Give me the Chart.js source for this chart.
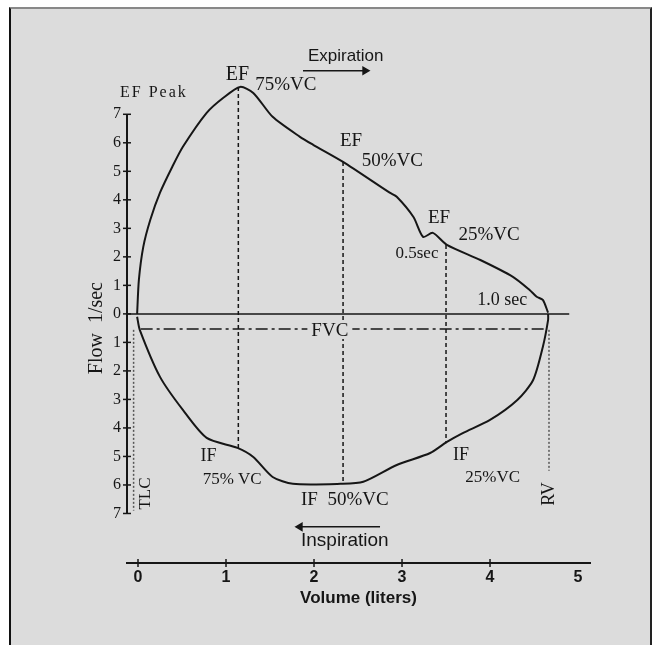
<!DOCTYPE html>
<html>
<head>
<meta charset="utf-8">
<script src="https://cdn.jsdelivr.net/npm/chart.js@4.4.1/dist/chart.umd.min.js"></script>
<style>
  html, body { margin: 0; padding: 0; background: #fff; }
  #frame { position: absolute; left: 9px; top: 7px; width: 643px; height: 638px; background: #dcdcdc;
           border-top: 2px solid #888; border-left: 2px solid #111; border-right: 2px solid #222; box-sizing: border-box; }
  #chart { position: absolute; left: 0; top: 0; }
</style>
</head>
<body>
<div id="frame"></div>
<canvas id="chart" width="658" height="645"></canvas>
<script>
// expiratory limb, TLC -> RV (litres, l/sec)
const expVolume = [-0.01, 0.01, 0.06, 0.14, 0.25, 0.39, 0.51, 0.78, 0.97, 1.16, 1.31, 1.53, 1.84, 1.99, 2.33, 2.86, 2.94, 3.13, 3.24, 3.35, 3.51, 3.89, 4.26, 4.45, 4.53, 4.60, 4.66];
const expFlow   = [0, 1.19, 2.35, 3.30, 4.25, 5.16, 5.86, 7.05, 7.58, 7.96, 7.75, 6.91, 6.21, 5.93, 5.33, 4.25, 4.11, 3.40, 2.70, 2.84, 2.42, 1.89, 1.30, 0.84, 0.60, 0.49, 0.04];
// inspiratory limb, TLC -> RV (flow drawn downward)
const inspVolume = [-0.01, 0.02, 0.25, 0.51, 0.78, 1.13, 1.31, 1.53, 1.76, 2.30, 2.56, 2.94, 3.32, 3.51, 3.69, 4.00, 4.31, 4.49, 4.60, 4.66, 4.66];
const inspFlow   = [-0.1, -0.56, -2.21, -3.37, -4.35, -4.70, -5.02, -5.72, -5.96, -5.96, -5.89, -5.30, -4.88, -4.49, -4.18, -3.72, -3.02, -2.32, -1.16, -0.21, 0];

// 75%, 50%, 25% VC markers
const markVolume = [1.14, 2.33, 3.50];
const markTop    = [7.96, 5.33, 2.42];
const markBottom = [-4.70, -5.96, -4.49];

const tlcVolume = -0.05, rvVolume = 4.67;
const fvcFlow = -0.53;

const xTicks = [0, 1, 2, 3, 4, 5];
const yTicks = [-7, -6, -5, -4, -3, -2, -1, 0, 1, 2, 3, 4, 5, 6, 7];

const X_MIN = -0.125, X_MAX = 5.136, Y_MIN = -8.737, Y_MAX = 9.5;
const INK = '#161616', BG = '#dcdcdc';
const SERIF = '"Liberation Serif", "DejaVu Serif", serif';
const SANS = '"Liberation Sans", "DejaVu Sans", sans-serif';

const pts = (xs, ys) => xs.map((x, i) => ({ x, y: ys[i] }));

const notes = [
  { text: 'EF Peak', v: 0.18, f: 7.77, font: '16px ' + SERIF, spacing: '2px' },
  { text: 'EF', v: 1.13, f: 8.40, font: '20px ' + SERIF },
  { text: '75%VC', v: 1.68, f: 8.03, font: '19px ' + SERIF },
  { text: 'Expiration', v: 2.36, f: 9.02, font: '17px ' + SANS },
  { text: 'EF', v: 2.42, f: 6.05, font: '19px ' + SERIF },
  { text: '50%VC', v: 2.89, f: 5.37, font: '19px ' + SERIF },
  { text: 'EF', v: 3.42, f: 3.35, font: '19px ' + SERIF },
  { text: '25%VC', v: 3.99, f: 2.77, font: '19px ' + SERIF },
  { text: '0.5sec', v: 3.17, f: 2.10, font: '17px ' + SERIF },
  { text: '1.0 sec', v: 4.14, f: 0.49, font: '18px ' + SERIF },
  { text: 'FVC', v: 2.18, f: -0.6, font: '19px ' + SERIF, bg: true },
  { text: 'IF', v: 0.80, f: -5.0, font: '18px ' + SERIF },
  { text: '75% VC', v: 1.07, f: -5.82, font: '17px ' + SERIF },
  { text: 'IF  50%VC', v: 2.35, f: -6.53, font: '19px ' + SERIF },
  { text: 'Inspiration', v: 2.35, f: -7.95, font: '19px ' + SANS },
  { text: 'IF', v: 3.67, f: -4.95, font: '18px ' + SERIF },
  { text: '25%VC', v: 4.03, f: -5.75, font: '17px ' + SERIF },
  { text: 'TLC', v: 0.085, f: -6.30, font: '17px ' + SERIF, rot: -90 },
  { text: 'RV', v: 4.67, f: -6.32, font: '18px ' + SERIF, rot: -90 },
  { text: 'Flow  1/sec', v: -0.466, f: -0.5, font: '20px ' + SERIF, rot: -90 }
];

const notePlugin = {
  id: 'notes',
  afterDatasetsDraw(chart) {
    const { ctx, scales: { x, y } } = chart;
    notes.forEach(n => {
      ctx.save();
      ctx.translate(x.getPixelForValue(n.v), y.getPixelForValue(n.f));
      if (n.rot) ctx.rotate(n.rot * Math.PI / 180);
      ctx.font = n.font;
      ctx.letterSpacing = n.spacing || '0px';
      ctx.textAlign = 'center';
      ctx.textBaseline = 'middle';
      if (n.bg) {
        const w = ctx.measureText(n.text).width;
        ctx.fillStyle = BG;
        ctx.fillRect(-w / 2 - 4, -8, w + 8, 16);
      }
      ctx.fillStyle = INK;
      ctx.fillText(n.text, 0, 0);
      ctx.restore();
    });
  }
};

const line = (data, extra) => Object.assign({
  data, showLine: true, borderColor: INK, backgroundColor: INK,
  borderWidth: 1.5, pointRadius: 0, clip: false
}, extra);

const datasets = [
  line(pts(expVolume, expFlow), { borderWidth: 2, tension: 0.25 }),
  line(pts(inspVolume, inspFlow), { borderWidth: 2, tension: 0.25 }),
  line([{ x: X_MIN, y: 0 }, { x: 4.9, y: 0 }]),
  line([{ x: 0.03, y: fvcFlow }, { x: 4.61, y: fvcFlow }], { borderDash: [12, 4, 3, 4] }),
  ...markVolume.map((v, i) => line([{ x: v, y: markTop[i] }, { x: v, y: markBottom[i] }], { borderDash: [4, 3] })),
  line([{ x: tlcVolume, y: -0.56 }, { x: tlcVolume, y: -6.9 }], { borderDash: [2, 2], borderColor: '#555' }),
  line([{ x: rvVolume, y: -0.56 }, { x: rvVolume, y: -5.5 }], { borderDash: [2, 2], borderColor: '#555' }),
  // flow axis with inward ticks
  line([{ x: X_MIN, y: yTicks[0] }, { x: X_MIN, y: yTicks[yTicks.length - 1] }], { borderWidth: 2 }),
  line(yTicks.map(v => ({ x: X_MIN, y: v })), { showLine: false, pointStyle: 'line', pointRadius: 4, borderWidth: 1.5 }),
  line(xTicks.filter(v => v < 5).map(v => ({ x: v, y: Y_MIN })), { showLine: false, pointStyle: 'line', rotation: 90, pointRadius: 4, borderWidth: 1.5 }),
  // arrows
  line([{ x: 1.875, y: 8.53 }, { x: 2.58, y: 8.53 }], { pointStyle: 'triangle', rotation: 90, pointRadius: [0, 4] }),
  line([{ x: 2.75, y: -7.47 }, { x: 1.84, y: -7.47 }], { pointStyle: 'triangle', rotation: -90, pointRadius: [0, 4] })
];

new Chart(document.getElementById('chart'), {
  type: 'scatter',
  data: { datasets },
  plugins: [notePlugin],
  options: {
    responsive: false,
    animation: false,
    layout: { padding: { top: 43, right: 68, left: 0, bottom: 0 } },
    plugins: { legend: { display: false }, tooltip: { enabled: false } },
    scales: {
      x: {
        type: 'linear', min: X_MIN, max: X_MAX,
        afterBuildTicks: s => { s.ticks = xTicks.map(v => ({ value: v })); },
        afterFit: s => { s.height = 82; },
        grid: { display: true, drawOnChartArea: false, drawTicks: false },
        border: { display: true, color: INK, width: 2 },
        ticks: { color: INK, padding: 5, font: { family: SANS, size: 16, weight: 'bold' } },
        title: { display: true, text: 'Volume (liters)', color: INK, padding: { top: 0, bottom: 36 },
                 font: { family: SANS, size: 17, weight: 'bold' } }
      },
      y: {
        type: 'linear', min: Y_MIN, max: Y_MAX,
        afterBuildTicks: s => { s.ticks = yTicks.map(v => ({ value: v })); },
        afterFit: s => { s.width = 127; },
        grid: { display: true, drawOnChartArea: false, drawTicks: false, color: 'rgba(0,0,0,0)' },
        border: { display: false },
        ticks: { color: INK, padding: 6, font: { family: SERIF, size: 16 }, callback: v => Math.abs(v) }
      }
    }
  }
});
</script>
</body>
</html>
